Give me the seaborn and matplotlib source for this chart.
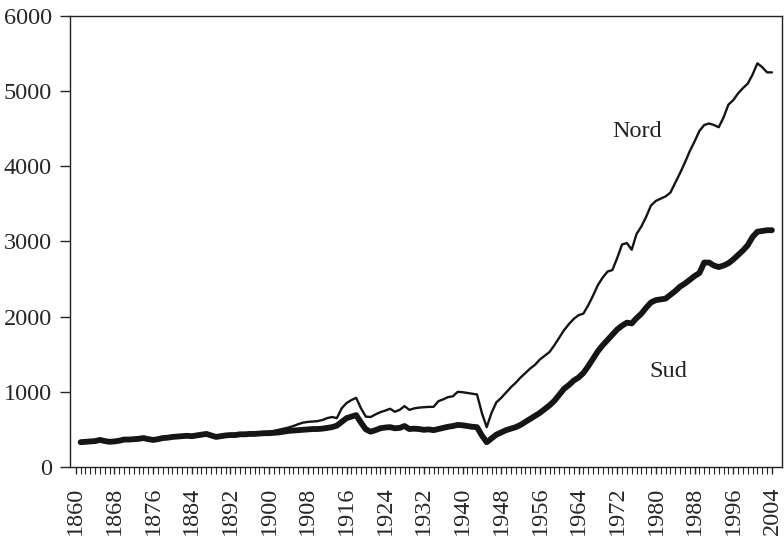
import numpy as np
import pandas as pd
import matplotlib
matplotlib.use("Agg")
import matplotlib.pyplot as plt
import seaborn as sns

# Data (one value per year 1861-2004)
years = list(range(1861, 2005))

nord = [335, 340, 345, 350, 360, 345, 340, 345, 355, 365,
        365, 370, 375, 385, 375, 365, 375, 385, 390, 400,
        405, 410, 415, 410, 420, 430, 440, 420, 405, 415,
        425, 430, 430, 440, 440, 445, 450, 455, 460, 470,
        480, 495, 510, 525, 545, 570, 590, 600, 605, 610,
        625, 650, 665, 650, 780, 850, 890, 920, 780, 670,
        665, 700, 730, 750, 775, 735, 760, 810, 760, 780,
        790, 795, 800, 800, 875, 900, 930, 940, 1000, 995,
        985, 975, 965, 720, 530, 720, 860, 920, 990, 1060,
        1120, 1190, 1250, 1310, 1360, 1430, 1480, 1530, 1620, 1720,
        1820, 1900, 1970, 2020, 2040, 2150, 2280, 2420, 2520, 2600,
        2620, 2780, 2960, 2980, 2890, 3100, 3200, 3330, 3480, 3540,
        3570, 3600, 3650, 3780, 3910, 4050, 4200, 4330, 4470, 4550,
        4570, 4550, 4520, 4650, 4820, 4880, 4970, 5040, 5100, 5220,
        5370, 5320, 5250, 5250]

sud = [330, 335, 340, 345, 360, 345, 335, 340, 350, 365,
       365, 370, 375, 385, 370, 360, 370, 385, 390, 400,
       405, 410, 415, 410, 420, 430, 440, 420, 400, 410,
       420, 425, 425, 435, 435, 440, 440, 445, 450, 450,
       455, 460, 470, 480, 485, 490, 495, 500, 505, 505,
       510, 520, 530, 550, 600, 650, 670, 690, 590, 500,
       470, 490, 515, 525, 530, 515, 520, 545, 505, 510,
       505, 495, 500, 490, 505, 520, 535, 545, 560, 555,
       545, 535, 530, 420, 330, 380, 430, 460, 490, 510,
       530, 560, 600, 640, 680, 720, 770, 820, 880, 960,
       1040, 1090, 1150, 1190, 1250, 1340, 1440, 1540, 1620, 1690,
       1760, 1830, 1880, 1920, 1910, 1980, 2040, 2120, 2190, 2220,
       2230, 2240, 2290, 2340, 2400, 2440, 2490, 2540, 2580, 2720,
       2720, 2680, 2660, 2680, 2710, 2760, 2820, 2880, 2950, 3060,
       3130, 3140, 3150, 3150]

tick_years = list(range(1860, 2005, 8))
y_ticks = [0, 1000, 2000, 3000, 4000, 5000, 6000]

df = pd.DataFrame({"anno": years, "Nord": nord, "Sud": sud})

sns.set_style("ticks")
plt.rcParams["font.family"] = ["Liberation Serif", "DejaVu Serif"]

fig = plt.figure(figsize=(7.84, 5.46), dpi=100)
ax = fig.add_axes([0.0893, 0.1447, 0.9082, 0.8260])

sns.lineplot(data=df, x="anno", y="Nord", ax=ax, color="#151515", linewidth=1.7)
sns.lineplot(data=df, x="anno", y="Sud", ax=ax, color="#151515", linewidth=4.2)

ax.set_xlim(1858.8, 2006.1)
ax.set_ylim(0, 6000)
ax.set_xticks(tick_years)
ax.set_xticks(years, minor=True)
ax.set_yticks(y_ticks)
ax.set_xticklabels([str(y) for y in tick_years], rotation=90, fontsize=17.5)
ax.set_yticklabels([str(v) for v in y_ticks], fontsize=17.5)
ax.tick_params(axis="x", which="major", length=5, width=1, pad=9)
ax.tick_params(axis="x", which="minor", length=5, width=0.8)
ax.tick_params(axis="y", which="major", length=7, width=1, pad=6)
ax.set_xlabel("")
ax.set_ylabel("")
for s in ax.spines.values():
    s.set_visible(True)
    s.set_linewidth(1.0)
    s.set_color("#222222")

ax.text(1976.1, 4470, "Nord", fontsize=17.5, ha="center", va="center", color="#222222")
ax.text(1982.6, 1270, "Sud", fontsize=17.5, ha="center", va="center", color="#222222")

fig.savefig("out.png", dpi=100)
